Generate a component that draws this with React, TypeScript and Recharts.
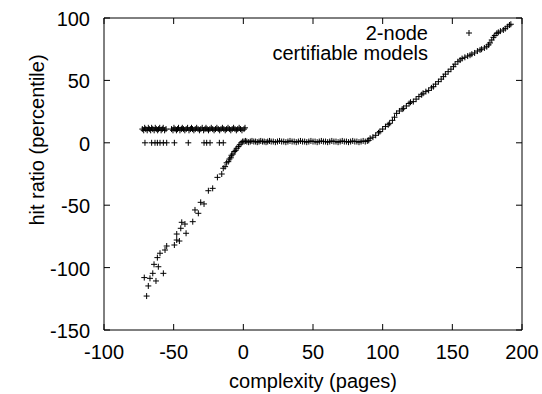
import React from "react";
import { ScatterChart, Scatter, XAxis, YAxis, Customized } from "recharts";

const xTicks = [-100, -50, 0, 50, 100, 150, 200];
const yTicks = [-150, -100, -50, 0, 50, 100];
const xLabel = "complexity (pages)";
const yLabel = "hit ratio (percentile)";
const legendLines = ["2-node", "certifiable models"];

const upperRow = [
  [-72.5, 11], [-71.5, 10], [-70.8, 12], [-70, 11], [-69, 10], [-68.2, 12], [-67.5, 11], [-66.5, 10],
  [-65.8, 12], [-65, 11], [-64, 10], [-63.2, 12], [-62.5, 11], [-61.5, 10], [-60.8, 11], [-60, 12],
  [-59, 10], [-58.2, 11], [-57.5, 12], [-56.5, 10], [-55.5, 11], [-51.5, 11], [-50.5, 10], [-49.8, 12],
  [-49, 11], [-48, 10], [-47.2, 11], [-46.5, 12], [-45.5, 10], [-44.5, 11], [-43.8, 12], [-43, 11],
  [-42, 10], [-41, 11], [-40, 12], [-39, 10], [-38, 11], [-37.2, 12], [-36.5, 11], [-35.5, 10],
  [-34.5, 11], [-33.5, 12], [-32.5, 11], [-31.5, 10], [-30.5, 11], [-29.5, 12], [-28.5, 10], [-27.5, 11],
  [-26.8, 12], [-26, 11], [-25, 10], [-24, 11], [-23, 12], [-22, 11], [-21, 10], [-20, 11], [-19, 12],
  [-18, 11], [-17, 10], [-16, 11], [-15, 12], [-14, 11], [-13, 10], [-12, 11], [-11, 12], [-10, 11],
  [-9, 10], [-8, 11], [-7, 12], [-6, 11], [-5, 10], [-4, 11], [-3, 12], [-2, 11], [-1, 10], [0.5, 11], [1.2, 12],
];

const lowerRow = [
  [-70.6, 0], [-65.8, 0], [-63.4, 0], [-61.7, 0], [-59.8, 0], [-57.4, 0], [-55, 0], [-49.5, 0],
  [-39.5, 0], [-28.2, 0], [-26.3, 0], [-23.9, 0], [-17.2, 0], [-14.4, 0],
];

const diagonal = [
  [-69.4, -122.8], [-71.1, -108], [-68.2, -114.7], [-67, -108.6], [-65, -104.6], [-62.7, -110.7],
  [-64.1, -97.4], [-61, -99.3], [-57.4, -104.6], [-61.7, -92], [-59.8, -88.5], [-56.2, -85.9],
  [-55, -82.7], [-49.5, -81.9], [-47.8, -77.9], [-45.9, -78.7], [-47.8, -73.1], [-44.9, -68.5],
  [-44.2, -63.7], [-41.9, -65.1], [-41.1, -72.5], [-36.3, -63.2], [-34.7, -53.8], [-32.3, -56.5],
  [-30.6, -47.7], [-28.2, -49], [-25.1, -38.4], [-22, -36.5], [-18.6, -27.7], [-15.5, -25],
  [-14.4, -20.4], [-13.1, -19.1], [-12, -16], [-10.8, -15.1], [-10, -13], [-9, -12], [-8.5, -10],
  [-7.5, -9], [-6.5, -7], [-5.5, -6], [-4.7, -4.4], [-3.5, -3], [-2.5, -1.5], [-1.5, 0], [-0.5, 1],
];

const flat = [
  [0.5, 1], [1.5, 1.5], [2.5, 1], [3.8, 0.5], [5, 1], [6.2, 1.5], [7.5, 1], [8.8, 1], [10, 0.5],
  [11.3, 1], [12.5, 1.5], [13.8, 1], [15, 1], [16.3, 0.5], [17.5, 1], [18.8, 1.5], [20, 1], [21.5, 1],
  [23, 0.5], [24.5, 1], [26, 1.5], [27.5, 1], [29, 1], [30.5, 0.5], [32, 1], [33.5, 1.5], [35, 1],
  [36.5, 1], [38, 0.5], [39.5, 1], [41, 1.5], [42.5, 1], [44, 1], [45.5, 0.5], [47, 1], [48.5, 1.5],
  [50, 1], [51.5, 1], [53, 0.5], [54.5, 1], [56, 1.5], [57.5, 1], [59, 1], [60.5, 0.5], [62, 1],
  [63.5, 1.5], [65, 1], [66.5, 1], [68, 0.5], [69.5, 1], [71, 1.5], [72.5, 1], [74, 1], [75.5, 0.5],
  [77, 1], [78.5, 1.5], [80, 1], [81.5, 1], [83, 0.5], [84.5, 1], [86, 1.5], [87.5, 1], [89, 1.5], [90, 2],
];

const rising = [
  [91, 3.6], [93, 4.5], [95, 6], [97, 8], [98, 9], [100, 11], [102, 13], [104, 14.5], [105, 15.6],
  [107, 18], [108.5, 20.5], [110, 23.6], [112, 25.5], [114, 27], [115, 27.6], [117, 29.5], [119, 31.5],
  [120, 32.5], [122, 33], [124, 35], [126, 37], [128, 38.5], [129, 39.7], [131, 41], [133, 42],
  [135, 44], [136.4, 45], [138, 47], [140, 49], [142, 51], [143.6, 53], [145, 55], [147, 57], [149, 59],
  [150.8, 61], [152, 63], [154, 65], [155.6, 66.3], [157, 67.5], [159, 68.5], [161, 69.5], [162.7, 70.2],
  [164, 71], [166, 72], [168, 73.5], [169.9, 74.4], [171, 75], [173, 76], [174.7, 77], [176, 78.5],
  [177, 80], [178.3, 82.4], [179.5, 84.5], [180.5, 86], [181.9, 87.7], [183, 88.5], [184.5, 89.5],
  [186.6, 90.4], [188, 91.5], [189.5, 93], [191, 94.4], [192, 95],
];

const toPts = (arr: number[][]) => arr.map(([x, y]) => ({ x, y }));

const FONT = "'Liberation Sans', Arial, Helvetica, sans-serif";
const FS = 20;

const Plus = (props: any) => {
  const { cx, cy } = props;
  if (cx == null || cy == null) return null;
  return (
    <path d={`M${cx - 3},${cy}h6M${cx},${cy - 3}v6`} stroke="#000" strokeWidth={1} fill="none" />
  );
};

const BottomTick = (props: any) => {
  const { x, y, payload } = props;
  return (
    <g>
      <line x1={x} y1={y} x2={x} y2={y - 6} stroke="#000" strokeWidth={1} />
      <text x={x} y={y + 22} textAnchor="middle" dominantBaseline="central" fontFamily={FONT} fontSize={FS} fill="#000">
        {payload.value}
      </text>
    </g>
  );
};

const TopTick = (props: any) => {
  const { x, y } = props;
  return <line x1={x} y1={y} x2={x} y2={y + 6} stroke="#000" strokeWidth={1} />;
};

const LeftTick = (props: any) => {
  const { x, y, payload } = props;
  return (
    <g>
      <line x1={x} y1={y} x2={x + 6} y2={y} stroke="#000" strokeWidth={1} />
      <text x={x - 14} y={y + 1} textAnchor="end" dominantBaseline="central" fontFamily={FONT} fontSize={FS} fill="#000">
        {payload.value}
      </text>
    </g>
  );
};

const RightTick = (props: any) => {
  const { x, y } = props;
  return <line x1={x} y1={y} x2={x - 6} y2={y} stroke="#000" strokeWidth={1} />;
};

const Extras = () => (
  <g>
    <text x={37} y={140} transform="rotate(-90 37 140)" textAnchor="middle" dominantBaseline="central" fontFamily={FONT} fontSize={FS} fill="#000">
      {yLabel}
    </text>
    <text x={313} y={381} textAnchor="middle" dominantBaseline="central" fontFamily={FONT} fontSize={FS} fill="#000">
      {xLabel}
    </text>
    <text x={428} y={33} textAnchor="end" dominantBaseline="central" fontFamily={FONT} fontSize={FS} fill="#000">
      {legendLines[0]}
    </text>
    <text x={428} y={53} textAnchor="end" dominantBaseline="central" fontFamily={FONT} fontSize={FS} fill="#000">
      {legendLines[1]}
    </text>
    <Plus cx={469} cy={33} />
  </g>
);

export default function App() {
  const series = [upperRow, lowerRow, diagonal, flat, rising];
  return (
    <div style={{ position: "absolute", left: 0, top: 0, background: "#fff" }}>
      <ScatterChart width={542} height={394} margin={{ top: 17, right: 19, bottom: 0, left: 0 }}>
        <XAxis
          xAxisId={0}
          type="number"
          dataKey="x"
          domain={[-100, 200]}
          ticks={xTicks}
          allowDataOverflow
          height={64}
          tickSize={0}
          tickMargin={0}
          tickLine={false}
          axisLine={{ stroke: "#000" }}
          tick={<BottomTick />}
          interval={0}
        />
        <XAxis
          xAxisId="top"
          orientation="top"
          type="number"
          dataKey="x"
          domain={[-100, 200]}
          ticks={xTicks}
          allowDataOverflow
          height={1}
          tickSize={0}
          tickMargin={0}
          tickLine={false}
          axisLine={{ stroke: "#000" }}
          tick={<TopTick />}
          interval={0}
        />
        <YAxis
          yAxisId={0}
          type="number"
          dataKey="y"
          domain={[-150, 100]}
          ticks={yTicks}
          allowDataOverflow
          width={104}
          tickSize={0}
          tickMargin={0}
          tickLine={false}
          axisLine={{ stroke: "#000" }}
          tick={<LeftTick />}
          interval={0}
        />
        <YAxis
          yAxisId="right"
          orientation="right"
          type="number"
          dataKey="y"
          domain={[-150, 100]}
          ticks={yTicks}
          allowDataOverflow
          width={1}
          tickSize={0}
          tickMargin={0}
          tickLine={false}
          axisLine={{ stroke: "#000" }}
          tick={<RightTick />}
          interval={0}
        />
        {series.map((s, i) => (
          <Scatter
            key={i}
            xAxisId={0}
            yAxisId={0}
            data={toPts(s)}
            shape={<Plus />}
            isAnimationActive={false}
          />
        ))}
        <Customized component={Extras} />
      </ScatterChart>
    </div>
  );
}
